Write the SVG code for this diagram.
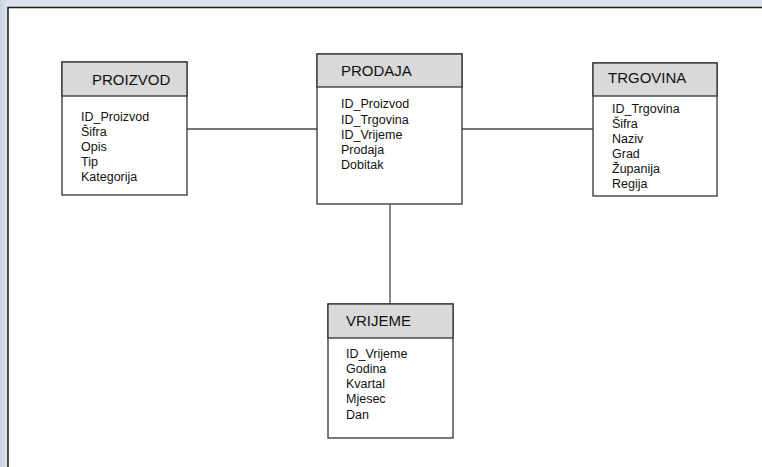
<svg xmlns="http://www.w3.org/2000/svg" width="762" height="467" viewBox="0 0 762 467">
<style>
.box{fill:#ffffff;stroke:#333333;stroke-width:1.3}
.hdr{fill:#d9d9d9;stroke:#333333;stroke-width:1.3}
.title{font-family:"Liberation Sans",Arial,sans-serif;font-size:15px;fill:#111111}
.attr{font-family:"Liberation Sans",Arial,sans-serif;font-size:12.5px;fill:#111111}
.conn{stroke:#4a4a4a;stroke-width:1.3;fill:none}
</style>
<defs>
<linearGradient id="bgL" x1="0" y1="0" x2="1" y2="0">
<stop offset="0" stop-color="#c9d3df"/>
<stop offset="1" stop-color="#dfe6ee"/>
</linearGradient>
</defs>
<rect x="0" y="0" width="762" height="467" fill="#ffffff"/>
<rect x="0" y="0" width="762" height="7" fill="#dce3ec"/>
<rect x="0" y="0" width="8" height="467" fill="url(#bgL)"/>
<path d="M8,467 V7.5 H762" fill="none" stroke="#1a1a1a" stroke-width="1.5"/>
<g id="connectors">
<line class="conn" x1="187" y1="129" x2="317" y2="129"/>
<line class="conn" x1="462" y1="129" x2="593" y2="129"/>
<line class="conn" x1="390" y1="204" x2="390" y2="304"/>
</g>
<g id="proizvod">
<rect class="box" x="62" y="62" width="125" height="133"/>
<rect class="hdr" x="62" y="62" width="125" height="34"/>
<text class="title" x="92" y="85">PROIZVOD</text>
<text class="attr" x="81" y="120.5">ID_Proizvod</text>
<text class="attr" x="81" y="135.5">Šifra</text>
<text class="attr" x="81" y="150.5">Opis</text>
<text class="attr" x="81" y="165.5">Tip</text>
<text class="attr" x="81" y="180.5">Kategorija</text>
</g>
<g id="prodaja">
<rect class="box" x="317" y="54" width="145" height="150"/>
<rect class="hdr" x="317" y="54" width="145" height="33"/>
<text class="title" x="341" y="76">PRODAJA</text>
<text class="attr" x="341" y="108">ID_Proizvod</text>
<text class="attr" x="341" y="123.5">ID_Trgovina</text>
<text class="attr" x="341" y="139">ID_Vrijeme</text>
<text class="attr" x="341" y="153.5">Prodaja</text>
<text class="attr" x="341" y="168.5">Dobitak</text>
</g>
<g id="trgovina">
<rect class="box" x="593" y="63" width="124" height="133"/>
<rect class="hdr" x="593" y="63" width="124" height="33"/>
<text class="title" x="608" y="83">TRGOVINA</text>
<text class="attr" x="612" y="113">ID_Trgovina</text>
<text class="attr" x="612" y="128">Šifra</text>
<text class="attr" x="612" y="143">Naziv</text>
<text class="attr" x="612" y="158">Grad</text>
<text class="attr" x="612" y="173">Županija</text>
<text class="attr" x="612" y="188">Regija</text>
</g>
<g id="vrijeme">
<rect class="box" x="328" y="304" width="125" height="134"/>
<rect class="hdr" x="328" y="304" width="125" height="34"/>
<text class="title" x="346" y="326">VRIJEME</text>
<text class="attr" x="346" y="358">ID_Vrijeme</text>
<text class="attr" x="346" y="373">Godina</text>
<text class="attr" x="346" y="388">Kvartal</text>
<text class="attr" x="346" y="403">Mjesec</text>
<text class="attr" x="346" y="418.5">Dan</text>
</g>
</svg>
